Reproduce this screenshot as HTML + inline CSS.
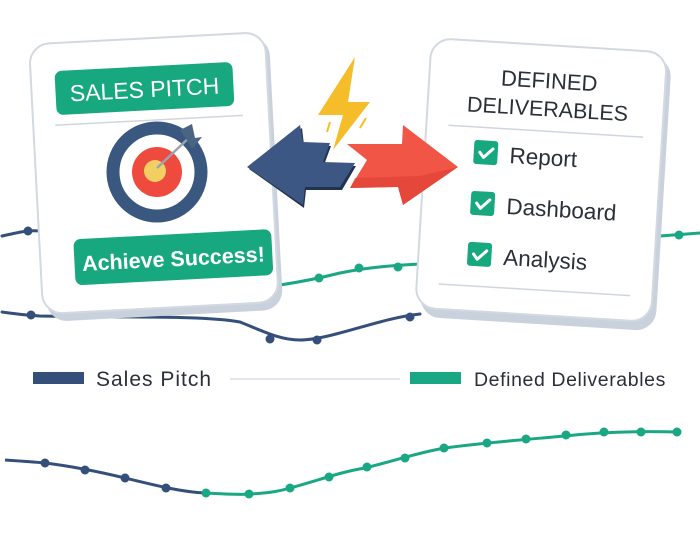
<!DOCTYPE html>
<html><head><meta charset="utf-8"><style>
html,body{margin:0;padding:0;background:#fff;width:700px;height:550px;overflow:hidden}
svg{display:block}
text{font-family:"Liberation Sans",sans-serif}
</style></head><body>
<svg width="700" height="550" viewBox="0 0 700 550" xmlns="http://www.w3.org/2000/svg">
<g fill="none" stroke-width="3" stroke-linecap="round">
<path d="M2,236 C20,232 28,230 40,231 L80,236" stroke="#34507a"/>
<path d="M2,312 C15,314 25,315 40,316 C120,318 200,315 240,322 C265,332 280,340 300,340 C330,340 380,318 420,314" stroke="#34507a"/>
<path d="M280,285 C300,282 320,278 340,273 C360,269 380,266 420,264" stroke="#19a883"/>
<path d="M660,236 L700,233" stroke="#19a883"/>
</g>
<g fill="#34507a"><circle cx="28" cy="231" r="4.5"/><circle cx="31" cy="315" r="4.5"/><circle cx="270" cy="339" r="4.5"/><circle cx="317" cy="340" r="4.5"/><circle cx="410" cy="317" r="4.5"/></g>
<g fill="#19a883"><circle cx="319" cy="278" r="4.5"/><circle cx="359" cy="268" r="4.5"/><circle cx="398" cy="267" r="4.5"/><circle cx="679" cy="235" r="4.5"/></g>

<g transform="rotate(-3 156 175)">
<rect x="40" y="42" width="236" height="274" rx="20" fill="#c9d1dc"/>
<rect x="36" y="38" width="236" height="270" rx="20" fill="#fff" stroke="#d3d9e1" stroke-width="2"/>
<rect x="60" y="66" width="178" height="44" rx="7" fill="#17a880"/>
<text x="149" y="97" text-anchor="middle" font-size="23" fill="#fff">SALES PITCH</text>
<line x1="58" y1="120" x2="246" y2="120" stroke="#d0d6de" stroke-width="1.5"/>
<rect x="70" y="235" width="198" height="46" rx="7" fill="#17a880"/>
<text x="169" y="267" text-anchor="middle" font-size="21.5" font-weight="bold" fill="#fff">Achieve Success!</text>
</g>
<circle cx="157" cy="172" r="44" fill="none" stroke="#3a5780" stroke-width="13"/>
<circle cx="157" cy="172" r="25" fill="#ee4a3d"/>
<circle cx="155" cy="171" r="11" fill="#f3cf63"/>
<line x1="157" y1="168" x2="193" y2="134" stroke="#9aa5b1" stroke-width="2.5"/>
<path d="M180,130 L192,124 L195,138 L202,137 L192,149 L188,142 Z" fill="#4a6484"/>

<g transform="rotate(3.5 541 183)">
<rect x="428" y="50" width="236" height="274" rx="20" fill="#c9d1dc"/>
<rect x="423" y="45" width="236" height="270" rx="20" fill="#fff" stroke="#d3d9e1" stroke-width="2"/>
<text x="543" y="88" text-anchor="middle" font-size="22" fill="#2a2f3a">DEFINED</text>
<text x="543" y="116" text-anchor="middle" font-size="21.5" fill="#2a2f3a">DELIVERABLES</text>
<line x1="445" y1="131" x2="640" y2="131" stroke="#d0d6de" stroke-width="1.5"/>
<g fill="#17a880"><rect x="472" y="144" width="24" height="24" rx="3"/><rect x="472" y="195" width="24" height="24" rx="3"/><rect x="472" y="246" width="24" height="24" rx="3"/></g>
<g fill="none" stroke="#fff" stroke-width="3" stroke-linecap="round" stroke-linejoin="round"><path d="M478,156 l4,5 l9,-9"/><path d="M478,207 l4,5 l9,-9"/><path d="M478,258 l4,5 l9,-9"/></g>
<g font-size="22.5" fill="#2a2f3a"><text x="508" y="165">Report</text><text x="508" y="216">Dashboard</text><text x="508" y="267">Analysis</text></g>
<line x1="445" y1="290" x2="637" y2="290" stroke="#d0d6de" stroke-width="1.5"/>
</g>

<path d="M249,169 L302,128 L304,145 L331,146 L324,165 L356,166 L342,190 L306,190 L304,208 Z" fill="#22334f"/>
<path d="M247,167 L300,125 L303,142 L330,143 L323,162 L355,163 L340,187 L305,187 L303,205 Z" fill="#3c5783"/>
<path d="M458,167 L403,125 L402,144 L347,144 L367,160 L350,188 L398,187 L403,205 Z" fill="#f05545"/>
<path d="M458,167 L403,205 L398,187 L350,188 L355,178 L420,176 Z" fill="#de3e33" opacity="0.6"/>
<path d="M355,57 L318,115 L343,115 L333,150 L370,102 L348,102 Z" fill="#f6bd2b"/>
<line x1="330" y1="122" x2="327" y2="132" stroke="#f6bd2b" stroke-width="2"/>
<line x1="366" y1="118" x2="360" y2="128" stroke="#f6bd2b" stroke-width="2"/>

<rect x="33" y="372" width="51" height="12" fill="#34507a"/>
<text x="96" y="386" font-size="21" letter-spacing="1" fill="#2a2f3a">Sales Pitch</text>
<line x1="230" y1="379" x2="400" y2="379" stroke="#d8dde4" stroke-width="1.5"/>
<rect x="410" y="372" width="51" height="12" fill="#19a883"/>
<text x="474" y="386" font-size="19.5" letter-spacing="0.6" fill="#2a2f3a">Defined Deliverables</text>

<path d="M5,460 C20,461 35,462 45,463 C70,466 100,472 125,478 C150,484 180,492 205,493" fill="none" stroke="#34507a" stroke-width="3"/>
<path d="M205,493 C225,494 240,495 250,494 C270,493 280,491 290,488 C320,480 340,472 365,468 C390,462 420,452 445,448 C480,443 520,440 565,436 C600,432 640,431 678,432" fill="none" stroke="#19a883" stroke-width="3"/>
<g fill="#34507a"><circle cx="45" cy="463" r="4.5"/><circle cx="85" cy="470" r="4.5"/><circle cx="125" cy="478" r="4.5"/><circle cx="166" cy="488" r="4.5"/></g>
<g fill="#19a883"><circle cx="206" cy="493" r="4.5"/><circle cx="249" cy="494" r="4.5"/><circle cx="290" cy="488" r="4.5"/><circle cx="329" cy="477" r="4.5"/><circle cx="367" cy="467" r="4.5"/><circle cx="405" cy="458" r="4.5"/><circle cx="444" cy="448" r="4.5"/><circle cx="487" cy="443" r="4.5"/><circle cx="526" cy="439" r="4.5"/><circle cx="566" cy="435" r="4.5"/><circle cx="604" cy="432" r="4.5"/><circle cx="641" cy="432" r="4.5"/><circle cx="677" cy="432" r="4.5"/></g>
</svg>
</body></html>
